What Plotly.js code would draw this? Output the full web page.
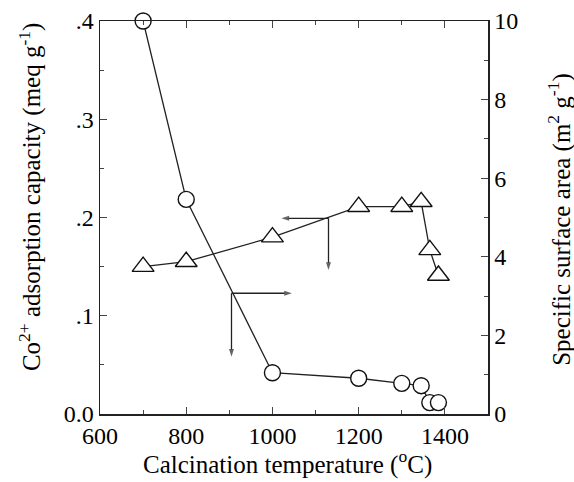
<!DOCTYPE html>
<html><head><meta charset="utf-8">
<script src="https://cdn.plot.ly/plotly-3.0.1.min.js"></script>
<style>html,body{margin:0;padding:0;background:#fff}#chart{width:574px;height:482px}</style>
</head><body><div id="chart"></div>
<script>
// Surface area (right axis, circles)
const areaTemps = [700, 800, 1000, 1200, 1300, 1345, 1365, 1385];
const areaValues = [10.0, 5.46, 1.05, 0.91, 0.78, 0.72, 0.29, 0.29];
// Co2+ adsorption capacity (left axis, triangles)
const adsTemps = [700, 800, 1000, 1200, 1300, 1345, 1365, 1385];
const adsValues = [0.150, 0.155, 0.180, 0.211, 0.211, 0.216, 0.167, 0.141];
// Axis tick labels
const leftTickVals = [0, 0.1, 0.2, 0.3, 0.4];
const leftTickText = ['0.0', '.1', '.2', '.3', '.4'];
const rightTickVals = [0, 2, 4, 6, 8, 10];
const xTickVals = [600, 800, 1000, 1200, 1400];
// Axis titles
const xTitle = 'Calcination temperature (<sup>o</sup>C)';
const leftTitle = 'Co<sup>2+</sup> adsorption capacity (meq g<sup>-1</sup>)';
const rightTitle = 'Specific surface area (m<sup>2</sup> g<sup>-1</sup>)';
// Indicator arrows (tail -> head), in x / left-axis units
const arrowTailX = [905, 905, 1130, 1130];
const arrowTailY = [0.1229, 0.1229, 0.1992, 0.1992];
const arrowHeadX = [1045, 905, 1021, 1130];
const arrowHeadY = [0.1229, 0.0583, 0.1992, 0.1466];

const font = {family: '"Liberation Serif", "Times New Roman", Times, serif', size: 24, color: '#000'};
const titleFont = {family: font.family, size: 25, color: '#000'};

const traces = [
  {x: adsTemps, y: adsValues, yaxis: 'y', mode: 'lines+markers', cliponaxis: false,
   line: {color: '#222', width: 1.3},
   marker: {symbol: 'triangle-up', size: 19, color: '#fff', line: {color: '#111', width: 1.4}}},
  {x: areaTemps, y: areaValues, yaxis: 'y2', mode: 'lines+markers', cliponaxis: false,
   line: {color: '#222', width: 1.3},
   marker: {symbol: 'circle', size: 16, color: '#fff', line: {color: '#111', width: 1.4}}}
];

arrowHeadX.forEach((hx, i) => {
  traces.push({
    x: [arrowTailX[i], hx], y: [arrowTailY[i], arrowHeadY[i]], yaxis: 'y',
    mode: 'lines+markers', line: {color: '#222', width: 1.3},
    marker: {symbol: 'arrow', angleref: 'previous', size: [0, 8], color: '#222', line: {width: 0}}
  });
});

const layout = {
  width: 574, height: 482,
  margin: {l: 100, r: 86, t: 21, b: 68},
  paper_bgcolor: '#fff', plot_bgcolor: '#fff',
  font: font,
  showlegend: false,
  xaxis: {range: [600, 1500], tickvals: xTickVals, ticks: 'inside', ticklen: 7, tickwidth: 1.2,
    minor: {dtick: 100, tick0: 600, ticks: 'inside', ticklen: 4, tickwidth: 1},
    showline: true, linecolor: '#222', linewidth: 1.5, mirror: 'ticks', showgrid: false, zeroline: false,
    tickfont: font, ticklabelstandoff: 0},
  yaxis: {range: [0, 0.4], tickvals: leftTickVals, ticktext: leftTickText, ticks: 'inside', ticklen: 7, tickwidth: 1.2,
    minor: {dtick: 0.05, tick0: 0, ticks: 'inside', ticklen: 4, tickwidth: 1},
    showline: true, linecolor: '#222', linewidth: 1.5, showgrid: false, zeroline: false,
    tickfont: font},
  yaxis2: {range: [0, 10], overlaying: 'y', side: 'right', tickvals: rightTickVals, ticks: 'inside', ticklen: 7, tickwidth: 1.2,
    minor: {dtick: 1, tick0: 0, ticks: 'inside', ticklen: 4, tickwidth: 1},
    showline: true, linecolor: '#222', linewidth: 1.5, showgrid: false, zeroline: false,
    tickfont: font},
  annotations: [
    {text: xTitle, xref: 'paper', yref: 'paper', x: 0.482, y: 0, yshift: -48, xanchor: 'center', yanchor: 'middle', showarrow: false, font: titleFont},
    {text: leftTitle, xref: 'paper', yref: 'paper', x: 0, xshift: -70, y: 0.552, xanchor: 'center', yanchor: 'middle', textangle: -90, showarrow: false, font: titleFont},
    {text: rightTitle, xref: 'paper', yref: 'paper', x: 1, xshift: 72, y: 0.494, xanchor: 'center', yanchor: 'middle', textangle: -90, showarrow: false, font: titleFont}
  ]
};

Plotly.newPlot('chart', traces, layout, {displayModeBar: false, staticPlot: true});
</script>
</body></html>
